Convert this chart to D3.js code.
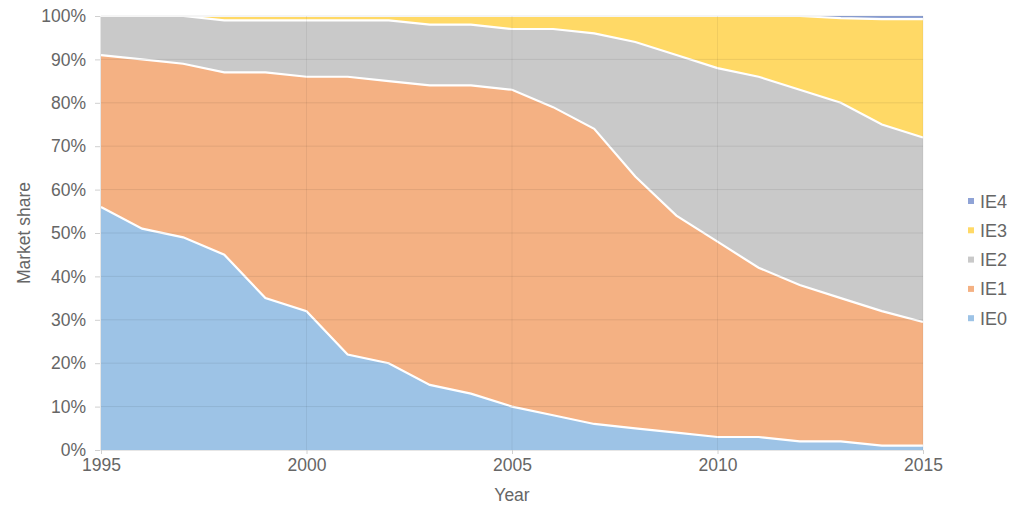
<!DOCTYPE html>
<html>
<head>
<meta charset="utf-8">
<script src="https://cdn.jsdelivr.net/npm/d3@7"></script>
<style>
  html, body { margin: 0; padding: 0; background: #fff; }
  svg { display: block; font-family: "Liberation Sans", Arial, sans-serif; }
</style>
</head>
<body>
<svg id="chart" width="1024" height="509"></svg>
<script>
const years = [1995,1996,1997,1998,1999,2000,2001,2002,2003,2004,2005,2006,2007,2008,2009,2010,2011,2012,2013,2014,2015];
const seriesNames = ["IE0","IE1","IE2","IE3","IE4"];
const IE0 = [56,51,49,45,35,32,22,20,15,13,10,8,6,5,4,3,3,2,2,1,1];
const IE1 = [35,39,40,42,52,54,64,65,69,71,73,71,68,58,50,45,39,36,33,31,28.5];
const IE2 = [9,10,11,12,12,13,13,14,14,14,14,18,22,31,37,40,44,45,45,43,42.5];
const IE3 = [0,0,0,1,1,1,1,1,2,2,3,3,4,6,9,12,14,17,19.5,24.3,27.3];
const IE4 = [0,0,0,0,0,0,0,0,0,0,0,0,0,0,0,0,0,0,0.5,0.7,0.7];
const colors = ["#9dc3e6","#f4b183","#c9c9c9","#ffd966","#8fa3d6"];
const yTicks = [0,10,20,30,40,50,60,70,80,90,100];
const xTicks = [1995,2000,2005,2010,2015];

const rows = years.map((y,i) => ({year:y, IE0:IE0[i], IE1:IE1[i], IE2:IE2[i], IE3:IE3[i], IE4:IE4[i]}));
const stacked = d3.stack().keys(seriesNames)(rows);

const svg = d3.select("#chart");
const m = {left:101, right:923, top:16, bottom:450};
const x = d3.scaleLinear().domain([1995,2015]).range([m.left, m.right]);
const y = d3.scaleLinear().domain([0,100]).range([m.bottom, m.top]);

const area = d3.area().x(d => x(d.data.year)).y0(d => y(d[0])).y1(d => y(d[1]));
const line = d3.line().x(d => x(d.data.year)).y(d => y(d[1]));

const g = svg.append("g");
g.selectAll("path.area").data(stacked).join("path")
  .attr("class","area")
  .attr("d", area)
  .attr("fill", (d,i) => colors[i]);

g.selectAll("path.sep").data(stacked.slice(0,4)).join("path")
  .attr("class","sep")
  .attr("d", line)
  .attr("fill","none")
  .attr("stroke","#fff")
  .attr("stroke-width",2.2);

const grid = svg.append("g");
grid.selectAll("line.h").data(yTicks.slice(1)).join("line")
  .attr("x1", m.left).attr("x2", m.right)
  .attr("y1", d => y(d)).attr("y2", d => y(d))
  .attr("stroke","rgba(0,0,0,0.08)").attr("stroke-width",1);
grid.selectAll("line.v").data(xTicks.slice(1)).join("line")
  .attr("x1", d => x(d)).attr("x2", d => x(d))
  .attr("y1", m.top).attr("y2", m.bottom)
  .attr("stroke","rgba(0,0,0,0.06)").attr("stroke-width",1);

const yAxis = d3.axisLeft(y).tickValues(yTicks).tickFormat(d => d + "%").tickSize(5).tickPadding(9);
const ya = svg.append("g").attr("transform",`translate(${m.left-1},0)`).call(yAxis);
ya.select(".domain").attr("stroke","#e6e6e6");
ya.selectAll(".tick line").attr("stroke","#d0d0d0");
ya.selectAll("text").attr("fill","#666").attr("font-size","17.5px");

const xAxis = d3.axisBottom(x).tickValues(xTicks).tickFormat(d3.format("d")).tickSize(4).tickPadding(5);
const xa = svg.append("g").attr("transform",`translate(0,${m.bottom})`).call(xAxis);
xa.select(".domain").attr("stroke","#e6e6e6");
xa.selectAll(".tick line").attr("stroke","#d0d0d0");
xa.selectAll("text").attr("fill","#666").attr("font-size","17.5px");

svg.append("text").attr("x", x(2005)).attr("y", 501).attr("text-anchor","middle")
  .attr("fill","#666").attr("font-size","17.5px").text("Year");
svg.append("text").attr("transform","translate(30,233) rotate(-90)").attr("text-anchor","middle")
  .attr("fill","#666").attr("font-size","17.5px").text("Market share");

const legendItems = seriesNames.map((n,i) => ({name:n, color:colors[i]})).reverse();
const lg = svg.append("g").attr("transform","translate(968,201)");
const li = lg.selectAll("g").data(legendItems).join("g")
  .attr("transform",(d,i) => `translate(0,${i*29.3})`);
li.append("rect").attr("x",0).attr("y",-3).attr("width",6).attr("height",6).attr("fill", d => d.color);
li.append("text").attr("x",12).attr("y",6.5).attr("fill","#666").attr("font-size","18px").text(d => d.name);
</script>
</body>
</html>
